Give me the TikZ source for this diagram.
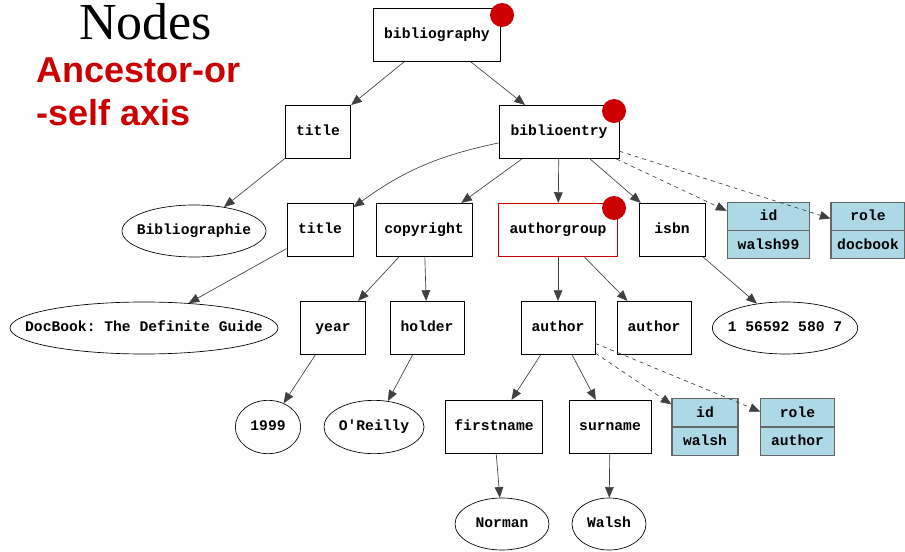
\documentclass[tikz,border=0pt]{standalone}
\usepackage{fontspec}
\setmainfont{Liberation Serif}
\setmonofont{Liberation Mono}
\newfontfamily\axisfont{Liberation Sans}
\usetikzlibrary{shapes.geometric,shapes.multipart,arrows.meta}
\definecolor{dotred}{RGB}{204,0,0}
\definecolor{attrblue}{RGB}{173,216,230}
\newcommand\attrpart[1]{\rule[-7pt]{0pt}{20.5pt}#1}

\begin{document}
\begin{tikzpicture}
[x=0.75pt, y=-0.75pt,
% STYLES
every node/.style={font=\ttfamily\bfseries\fontsize{11}{13}\selectfont, inner sep=0pt},
% The element style is used for the element boxes
element/.style={rectangle, draw, line width=0.6pt, minimum height=40pt,
  text height=8pt, text depth=2.5pt},
% The textnode style is used for the text values
textnode/.style={ellipse, draw, line width=0.5pt, minimum height=39pt,
  inner xsep=-40pt, inner ysep=-10pt, text height=8pt, text depth=2.5pt},
% The attr style is used for name/value pairs
attr/.style={rectangle split, rectangle split parts=2, draw=black!60, fill=attrblue,
  line width=0.8pt, text width=#1, align=center},
child/.style={draw=black!75, line width=0.5pt, -{Triangle[length=8pt,width=6.5pt]}},
attrib/.style={child, dashed},
axisdot/.style={circle, fill=dotred, minimum size=18pt}]

\useasboundingbox (0,0) rectangle (905,552);

% Headings
\node [font=\rmfamily\fontsize{39}{39}\selectfont, anchor=base west] (heading) at (79,40) {Nodes};
\node [font=\axisfont\bfseries\fontsize{27}{32}\selectfont, text=dotred, anchor=base west] (axisa) at (36,83) {Ancestor-or};
\node [font=\axisfont\bfseries\fontsize{27}{32}\selectfont, text=dotred, anchor=base west] (axisb) at (36,126) {-self axis};

% Draw elements
\node [element, minimum width=95pt] (bibliography) at (437,35) {bibliography};
\node [element, minimum width=49pt] (title1) at (318,132) {title};
\node [element, minimum width=90pt] (biblioentry) at (559,132) {biblioentry};
\node [element, minimum width=49.5pt] (title2) at (320,230) {title};
\node [element, minimum width=72pt] (copyright) at (424,230) {copyright};
\node [element, minimum width=89pt, draw=dotred] (authorgroup) at (558,230) {authorgroup};
\node [element, minimum width=49.5pt] (isbn) at (672,230) {isbn};
\node [element, minimum width=49pt] (year) at (333,328) {year};
\node [element, minimum width=55.5pt] (holder) at (427,328) {holder};
\node [element, minimum width=55.5pt] (author1) at (558,328) {author};
\node [element, minimum width=55.5pt] (author2) at (654,328) {author};
\node [element, minimum width=73pt] (firstname) at (494,427) {firstname};
\node [element, minimum width=61.5pt] (surname) at (610,427) {surname};

% Draw text values
\node [textnode, minimum width=108pt] (bibliographie) at (194,231) {Bibliographie};
\node [textnode, minimum width=201pt] (docbook) at (144,328) {DocBook: The Definite Guide};
\node [textnode, minimum width=109pt] (isbnval) at (785,328) {1 56592 580 7};
\node [textnode, minimum width=49pt, minimum height=40pt] (yearval) at (268,427) {1999};
\node [textnode, minimum width=75pt, minimum height=40pt] (holderval) at (374,427) {O'Reilly};
\node [textnode, minimum width=70.5pt] (norman) at (502,524) {Norman};
\node [textnode, minimum width=55.5pt] (walsh) at (609,524) {Walsh};

% Draw attributes
\node [attr=62pt] (id1) at (768.5,230.5) {\attrpart{id}\nodepart{two}\attrpart{walsh99}};
\node [attr=55.5pt] (role1) at (868,230.5) {\attrpart{role}\nodepart{two}\attrpart{docbook}};
\node [attr=49.5pt] (id2) at (705,427) {\attrpart{id}\nodepart{two}\attrpart{walsh}};
\node [attr=55pt] (role2) at (797.5,427) {\attrpart{role}\nodepart{two}\attrpart{author}};

% Draw children
\path (bibliography) edge [child] (title1) edge [child] (biblioentry);
\path (title1) edge [child] (bibliographie);
\path (biblioentry) edge [child, bend right=12] (title2) edge [child] (copyright)
  edge [child] (authorgroup) edge [child] (isbn)
  edge [attrib] (id1) edge [attrib] (role1);
\path (title2) edge [child] (docbook);
\path (copyright) edge [child] (year) edge [child] (holder);
\path (authorgroup) edge [child] (author1) edge [child] (author2);
\path (isbn) edge [child] (isbnval);
\path (year) edge [child] (yearval);
\path (holder) edge [child] (holderval);
\path (author1) edge [child] (firstname) edge [child] (surname)
  edge [attrib] (id2) edge [attrib] (role2);
\path (firstname) edge [child] (norman);
\path (surname) edge [child] (walsh);

% Axis marks
\node [axisdot] (dot1) at (502,15) {};
\node [axisdot] (dot2) at (614,111) {};
\node [axisdot] (dot3) at (614,208) {};

\end{tikzpicture}
\end{document}
